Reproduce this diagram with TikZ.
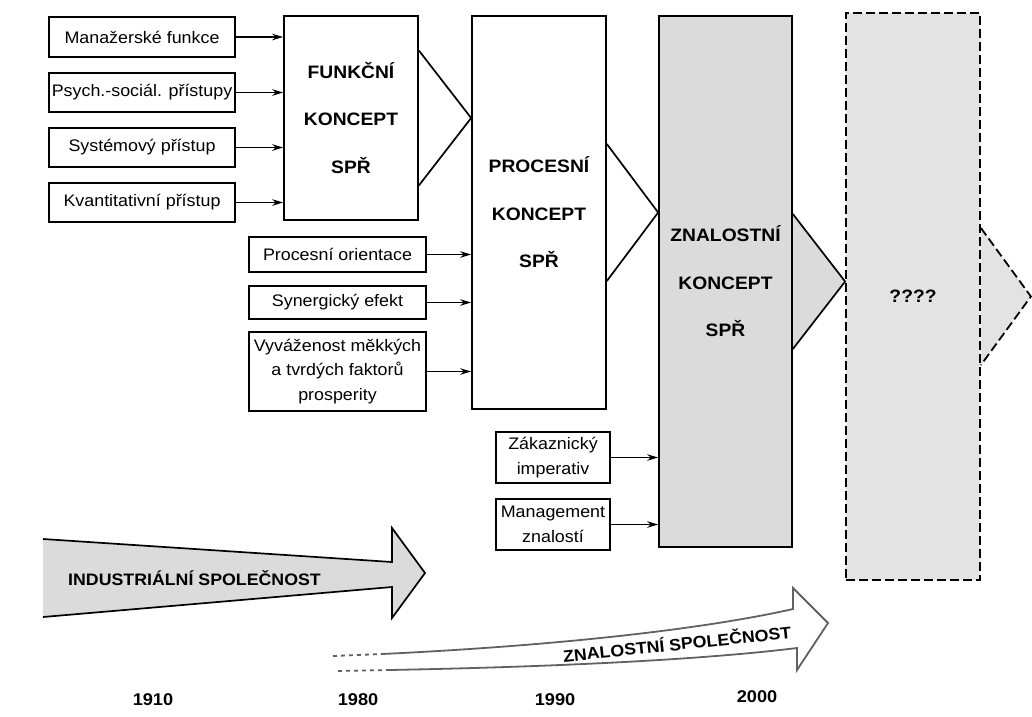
\documentclass[tikz,border=0pt]{standalone}
\usepackage{fontspec}
\setmainfont{Liberation Sans}[FakeStretch=1.07]
\usetikzlibrary{arrows.meta,calc,backgrounds}
\definecolor{paper}{gray}{0.86}
\definecolor{paperlight}{gray}{0.89}
\definecolor{inkgray}{gray}{0.38}

\begin{document}
\begin{tikzpicture}[x=1pt,y=-1pt,
  inbox/.style={draw,line width=1.3pt,align=center,inner sep=0pt,
    font=\fontsize{16.7}{24.5}\selectfont},
  concept/.style={draw,line width=1.7pt,align=center,inner sep=0pt,
    minimum width=134pt,font=\fontsize{18}{47.5}\selectfont\bfseries},
  feed/.style={line width=1.3pt,-{Stealth[length=11pt,width=6.5pt]}},
  chev/.style={line width=1.7pt,line join=miter},
  era/.style={font=\fontsize{16.6}{20}\selectfont\bfseries},
  year/.style={font=\fontsize{17}{20}\selectfont\bfseries}]

\useasboundingbox (0,0) rectangle (1032,716);

% concept columns
\node[concept,minimum height=204pt] (f) at (351,118) {FUNKČNÍ\\KONCEPT\\SPŘ};
\node[concept,minimum height=393pt] (p) at (539,212.5) {PROCESNÍ\\KONCEPT\\SPŘ};
\node[concept,minimum width=133pt,minimum height=531pt,fill=paper] (z) at (725.5,281.5) {ZNALOSTNÍ\\KONCEPT\\SPŘ};
\node[concept,minimum height=567pt,fill=paperlight,line width=1.8pt,
  dash pattern=on 9pt off 4pt] (q) at (913,296.5) {????};

% chevrons between the columns
\begin{scope}[on background layer]
  \draw[chev] ([yshift=67.5pt]f.east) -- (f.east -| p.west) -- ([yshift=-67.5pt]f.east);
  \draw[chev] ([yshift=68.5pt]p.east) -- (p.east -| z.west) -- ([yshift=-68.5pt]p.east);
  \draw[chev,fill=paper] ([yshift=67.5pt]z.east) -- (z.east -| q.west) -- ([yshift=-67.5pt]z.east);
  \draw[chev,fill=paperlight,line width=1.8pt,dash pattern=on 9pt off 4pt]
    ([yshift=68.5pt]q.east) -- ($(q.east)+(50,0)$) -- ([yshift=-68.5pt]q.east);
\end{scope}

% inputs of the functional concept
\node[inbox,minimum width=186pt,minimum height=40pt] (a1) at (142,37) {Manažerské funkce};
\node[inbox,minimum width=186pt,minimum height=39pt] (a2) at (142,92.5) {Psych.-sociál. přístupy};
\node[inbox,minimum width=186pt,minimum height=39pt] (a3) at (142,147.5) {Systémový přístup};
\node[inbox,minimum width=186pt,minimum height=39pt] (a4) at (142,202.5) {Kvantitativní přístup};
\foreach \n in {a1,a2,a3,a4} \draw[feed] (\n.east) -- (\n.east -| f.west);

% inputs of the process concept
\node[inbox,minimum width=177pt,minimum height=35pt] (b1) at (337.5,254.5) {Procesní orientace};
\node[inbox,minimum width=177pt,minimum height=33pt] (b2) at (337.5,302.5) {Synergický efekt};
\node[inbox,minimum width=177pt,minimum height=79pt] (b3) at (337.5,371.5) {Vyváženost měkkých\\a tvrdých faktorů\\prosperity};
\foreach \n in {b1,b2,b3} \draw[feed] (\n.east) -- (\n.east -| p.west);

% inputs of the knowledge concept
\node[inbox,minimum width=114pt,minimum height=51pt] (c1) at (553,457.5) {Zákaznický\\imperativ};
\node[inbox,minimum width=114pt,minimum height=51pt] (c2) at (553,524.5) {Management\\znalostí};
\foreach \n in {c1,c2} \draw[feed] (\n.east) -- (\n.east -| z.west);

% industrial society arrow
\fill[paper] (43,539) -- (392,562) -- (392,528) -- (425,573) -- (392,618) -- (392,587) -- (43,617) -- cycle;
\draw[line width=1.7pt,line join=miter] (43,539) -- (392,562) -- (392,528) -- (425,573)
  -- (392,618) -- (392,587) -- (43,617);
\node[era] (ind) at (194.5,578) {INDUSTRIÁLNÍ SPOLEČNOST};

% knowledge society arrow
\draw[inkgray,line width=1.8pt,dash pattern=on 4pt off 4pt] (333,656) -- (382,654);
\draw[inkgray,line width=1.8pt,dash pattern=on 4pt off 4pt] (338,671) -- (388,670);
\draw[inkgray,line width=1.8pt,line join=miter]
  (382,654) .. controls (550,646) and (700,630) .. (793,609)
  -- (793,588) -- (828,623) -- (797,670) -- (797,648)
  .. controls (700,660) and (550,667) .. (388,670);
\node[era,rotate=6] (zn) at (677,643) {ZNALOSTNÍ SPOLEČNOST};

% time axis
\node[year] (y1) at (153,700) {1910};
\node[year] (y2) at (358,700) {1980};
\node[year] (y3) at (555,700) {1990};
\node[year] (y4) at (757,697) {2000};
\end{tikzpicture}
\end{document}
